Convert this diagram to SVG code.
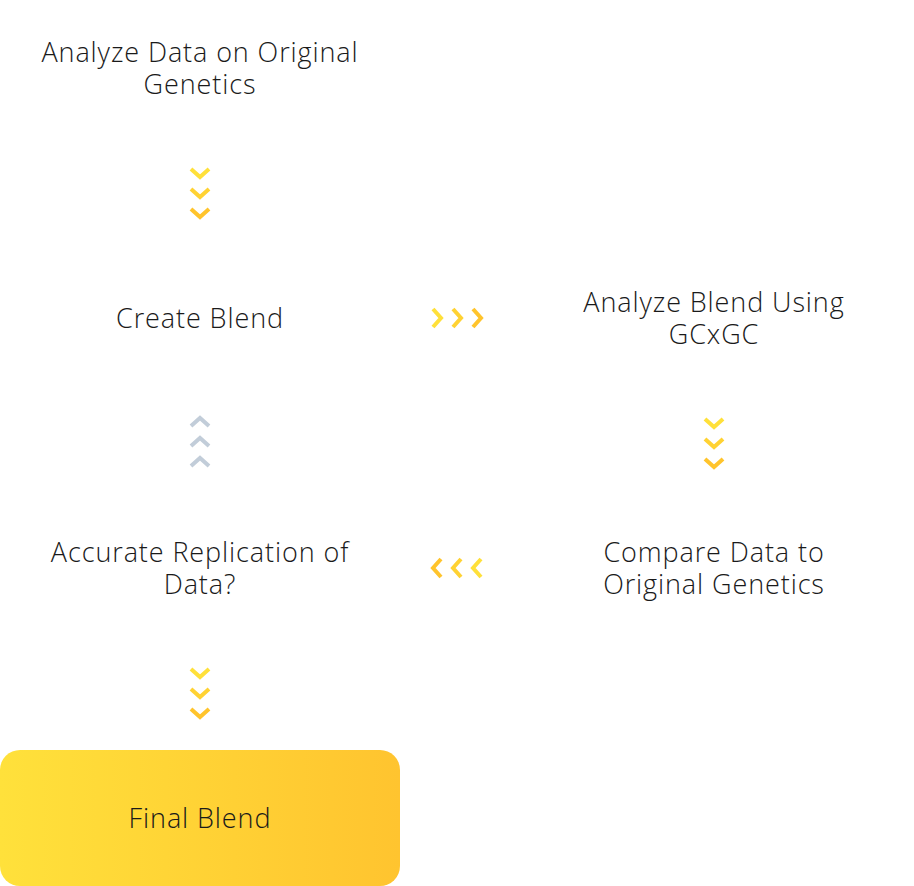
<svg xmlns="http://www.w3.org/2000/svg" width="914" height="886" viewBox="0 0 914 886">
<defs>
<linearGradient id="gBox" x1="0" y1="0" x2="1" y2="0">
<stop offset="0" stop-color="#FFE13B"/><stop offset="1" stop-color="#FFC42F"/>
</linearGradient>
<style>
.t{font-family:"Open Sans","Liberation Sans",sans-serif;font-weight:300;font-size:27px;letter-spacing:0.9px;fill:#1a1a1a;text-anchor:middle}
.c{fill:none;stroke-width:4;stroke-linecap:butt;stroke-linejoin:miter}
.y1{stroke:#FFE03A}.y2{stroke:#FFD233}.y3{stroke:#FFC42C}
.g{stroke:#C2CDD9}
</style>
</defs>
<rect width="914" height="886" fill="#fff"/>
<g id="n1"><text class="t" x="200" y="62">Analyze Data on Original</text><text class="t" x="200" y="94">Genetics</text></g>
<g id="n2"><text class="t" x="200" y="328">Create Blend</text></g>
<g id="n3"><text class="t" x="714" y="312">Analyze Blend Using</text><text class="t" x="714" y="344">GCxGC</text></g>
<g id="n4"><text class="t" x="714" y="562">Compare Data to</text><text class="t" x="714" y="594">Original Genetics</text></g>
<g id="n5"><text class="t" x="200" y="562">Accurate Replication of</text><text class="t" x="200" y="594">Data?</text></g>
<g id="n6"><rect x="0" y="750" width="400" height="136" rx="20" fill="url(#gBox)"/><text class="t" x="200" y="828">Final Blend</text></g>
<g id="connectors">
<g id="c1"><path class="c y1" d="M191 169l9 8 9-8"/><path class="c y2" d="M191 189l9 8 9-8"/><path class="c y3" d="M191 209l9 8 9-8"/></g>
<g id="c2"><path class="c y1" d="M433 309l8 9-8 9"/><path class="c y2" d="M453 309l8 9-8 9"/><path class="c y3" d="M473 309l8 9-8 9"/></g>
<g id="c3"><path class="c y1" d="M705 419l9 8 9-8"/><path class="c y2" d="M705 439l9 8 9-8"/><path class="c y3" d="M705 459l9 8 9-8"/></g>
<g id="c4"><path class="c y3" d="M441 559l-8 9 8 9"/><path class="c y2" d="M461 559l-8 9 8 9"/><path class="c y1" d="M481 559l-8 9 8 9"/></g>
<g id="c5"><path class="c g" d="M191 426l9-8 9 8"/><path class="c g" d="M191 446l9-8 9 8"/><path class="c g" d="M191 466l9-8 9 8"/></g>
<g id="c6"><path class="c y1" d="M191 669l9 8 9-8"/><path class="c y2" d="M191 689l9 8 9-8"/><path class="c y3" d="M191 709l9 8 9-8"/></g>
</g>
</svg>
